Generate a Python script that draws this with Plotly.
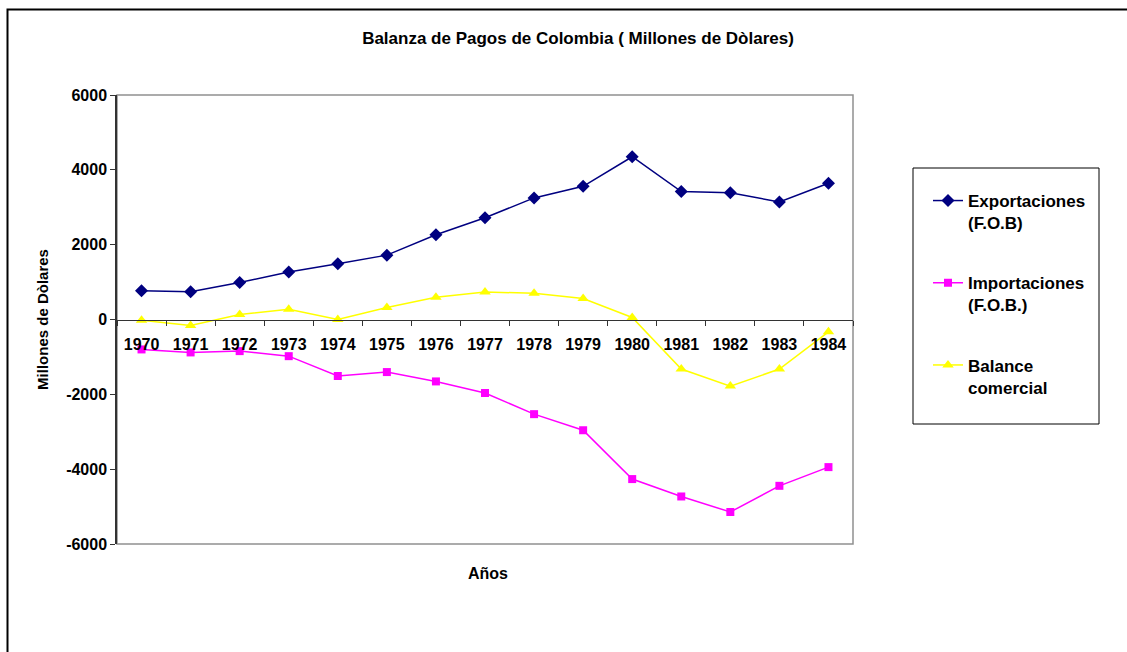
import plotly.graph_objects as go

years = ["1970", "1971", "1972", "1973", "1974", "1975", "1976", "1977",
         "1978", "1979", "1980", "1981", "1982", "1983", "1984"]
exportaciones = [770, 740, 990, 1270, 1490, 1720, 2265, 2720,
                 3250, 3560, 4350, 3420, 3390, 3140, 3640]
importaciones = [-800, -880, -845, -980, -1510, -1405, -1655, -1965,
                 -2530, -2960, -4265, -4730, -5145, -4445, -3945]
balance = [-20, -160, 135, 275, 0, 320, 595, 735,
           700, 560, 55, -1325, -1780, -1325, -330]
y_ticks = [-6000, -4000, -2000, 0, 2000, 4000, 6000]
y_ticktext = ["-6000", "-4000", "-2000", "0", "2000", "4000", "6000"]

W, H = 1127, 652
L, R, T, B = 117, 853, 95, 544

def px(x):
    return (x - L) / (R - L)

def py(y):
    return (B - y) / (B - T)

FONT = "Liberation Sans, Arial, sans-serif"

fig = go.Figure()
fig.add_trace(go.Scatter(
    x=years, y=exportaciones, name="Exportaciones<br>(F.O.B)", mode="lines+markers",
    line=dict(color="#000080", width=1.5),
    marker=dict(symbol="diamond", size=10, color="#000080"),
    legendgroup="a"))
fig.add_trace(go.Scatter(
    x=years, y=importaciones, name="Importaciones<br>(F.O.B.)", mode="lines+markers",
    line=dict(color="#FF00FF", width=1.5),
    marker=dict(symbol="square", size=8, color="#FF00FF"),
    legendgroup="b"))
fig.add_trace(go.Scatter(
    x=years, y=balance, name="Balance<br>comercial", mode="lines+markers",
    line=dict(color="#FFFF00", width=1.5),
    marker=dict(symbol="triangle-up", size=10, color="#FFFF00"),
    legendgroup="c"))

fig.update_layout(
    width=W, height=H,
    margin=dict(l=L, r=W - R, t=T, b=H - B),
    paper_bgcolor="white", plot_bgcolor="white",
    font=dict(family=FONT, color="black", size=16),
    title=dict(text="Balanza de Pagos de Colombia ( Millones de Dòlares)",
               xref="container", x=578 / W, xanchor="center",
               yref="container", y=1 - 38 / H, yanchor="middle",
               font=dict(size=17, weight="bold", family=FONT)),
    showlegend=True,
    legend=dict(x=px(928), y=py(183), xanchor="left", yanchor="top",
                traceorder="grouped", tracegroupgap=35, valign="top",
                font=dict(size=17, weight="bold", family=FONT),
                bgcolor="rgba(0,0,0,0)", borderwidth=0),
    xaxis=dict(type="category", range=[-0.5, 14.5], anchor="free", position=0.5,
               showline=True, linecolor="#333333", linewidth=1,
               ticks="outside", tickson="boundaries", ticklen=5, tickcolor="#333333",
               ticklabelstandoff=10,
               showgrid=False, zeroline=False,
               tickfont=dict(size=16, weight="bold", family=FONT)),
    yaxis=dict(range=[-6000, 6000], tickvals=y_ticks, ticktext=y_ticktext,
               showline=True, linecolor="#333333", linewidth=1.5,
               ticks="outside", ticklen=5, tickcolor="#333333",
               showgrid=False, zeroline=False,
               tickfont=dict(size=16, weight="bold", family=FONT),
               title=dict(text="Millones de Dòlares", standoff=14,
                          font=dict(size=15, weight="bold", family=FONT))),
    shapes=[
        dict(type="rect", xref="paper", yref="paper", x0=0, x1=1, y0=0, y1=1,
             line=dict(color="#909090", width=1.5), layer="below"),
        dict(type="rect", xref="paper", yref="paper",
             x0=px(913), x1=px(1099), y0=py(424), y1=py(168),
             line=dict(color="black", width=1)),
        dict(type="path", xref="paper", yref="paper",
             path=f"M {px(7.5)} {py(660)} L {px(7.5)} {py(9.5)} L {px(1140)} {py(9.5)}",
             line=dict(color="black", width=2)),
    ],
    annotations=[
        dict(text="Años", xref="paper", yref="paper", x=px(488), y=py(573),
             xanchor="center", yanchor="middle", showarrow=False,
             font=dict(size=16, weight="bold", family=FONT)),
    ],
)

fig.write_html("out.html")
